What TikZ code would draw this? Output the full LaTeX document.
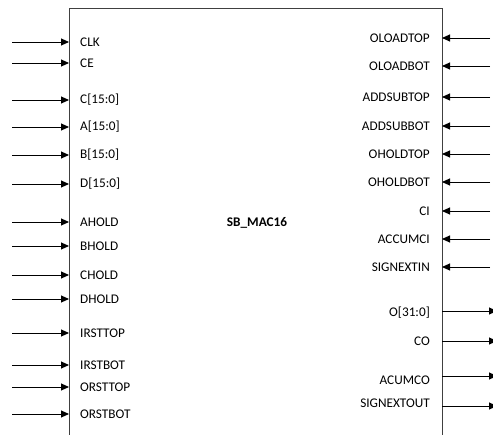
\documentclass[tikz,border=0pt]{standalone}
\usepackage{fontspec}
\setmainfont{Carlito}
\usetikzlibrary{arrows.meta}
\begin{document}
\begin{tikzpicture}[x=1bp,y=-1bp,
  sig/.style={font=\fontsize{13.3}{14}\selectfont, inner sep=0pt},
  wire/.style={line width=0.9bp, -{Triangle[length=8bp,width=7bp]}},
  boxline/.style={line width=0.9bp, draw=black!75}]
\useasboundingbox (0,0) rectangle (493,435);
\draw[boxline] (69,435) -- (69,8) -- (442,8) -- (442,435);
\node[font=\bfseries\fontsize{13.3}{14}\selectfont] (title) at (257,223) {SB\_MAC16};
% left inputs
\foreach \n/\y/\t in {clk/42/CLK, ce/63/CE, c/100/{C[15:0]}, a/127/{A[15:0]}, b/155/{B[15:0]}, d/184/{D[15:0]}, ahold/222/AHOLD, bhold/246/BHOLD, chold/275/CHOLD, dhold/299/DHOLD, irsttop/333/IRSTTOP, irstbot/365/IRSTBOT, orsttop/387/ORSTTOP, orstbot/414/ORSTBOT}{
  \coordinate (\n-src) at (12,\y);
  \coordinate (\n-pin) at (69,\y);
  \node[sig, anchor=west] (\n) at (80,\y) {\t};
  \draw[wire] (\n-src) -- (\n-pin);
}
% right inputs
\foreach \n/\y/\t in {oloadtop/38/OLOADTOP, oloadbot/66/OLOADBOT, addsubtop/97/ADDSUBTOP, addsubbot/126/ADDSUBBOT, oholdtop/154/OHOLDTOP, oholdbot/182/OHOLDBOT, ci/211/CI, accumci/239/ACCUMCI, signextin/267/SIGNEXTIN}{
  \coordinate (\n-src) at (490,\y);
  \coordinate (\n-pin) at (442,\y);
  \node[sig, anchor=east] (\n) at (430,\y) {\t};
  \draw[wire] (\n-src) -- (\n-pin);
}
% right outputs
\foreach \n/\y/\ty/\t in {o/311/313/{O[31:0]}, co/341/341/CO, acumco/376/380/ACUMCO, signextout/406/403/SIGNEXTOUT}{
  \coordinate (\n-pin) at (442,\y);
  \coordinate (\n-dst) at (497,\y);
  \node[sig, anchor=east] (\n) at (430,\ty) {\t};
  \draw[wire] (\n-pin) -- (\n-dst);
}
\end{tikzpicture}
\end{document}
